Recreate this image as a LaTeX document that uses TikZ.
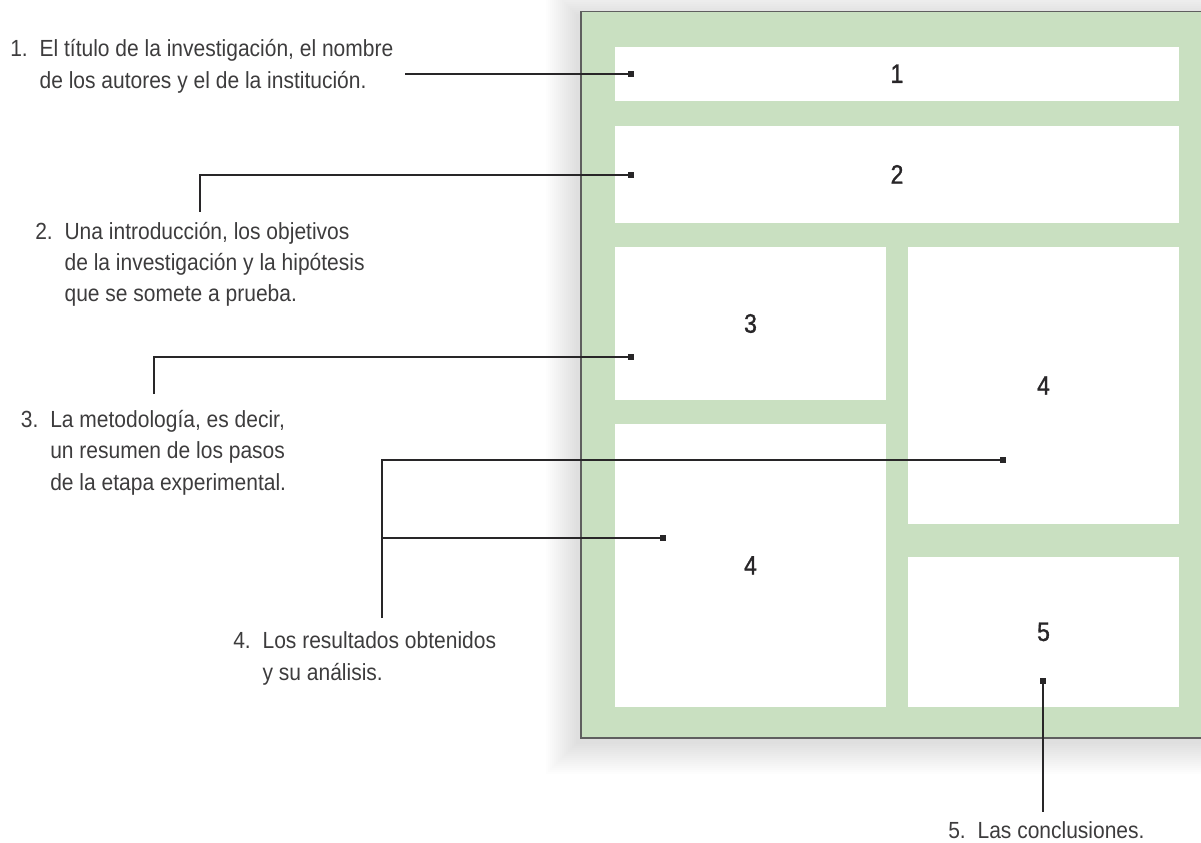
\documentclass[tikz,border=0pt]{standalone}
\usepackage{fontspec}
\setmainfont{Liberation Sans}[FakeStretch=0.9]
\newfontfamily\boxfont{Liberation Sans}[FakeStretch=0.86, FakeBold=1.2]
\usepackage{xcolor}
\usetikzlibrary{positioning}

\definecolor{sheetgreen}{RGB}{201,224,193}
\definecolor{ink}{RGB}{40,38,40}
\definecolor{rim}{RGB}{95,95,95}

\newcommand\px{0.75pt}
\newcommand\lnum[1]{\makebox[22pt][l]{#1}}
\newcommand\lind{\hspace*{22pt}}

\begin{document}
\begin{tikzpicture}[x=0.75pt, y=-0.75pt,
  sheet/.style={draw=none, fill=sheetgreen, inner sep=0pt},
  panel/.style={fill=white, inner sep=0pt, text=ink, font=\boxfont\fontsize{20}{22}\selectfont},
  lead/.style={draw=ink, line width=0.9pt},
  endmark/.style={rectangle, fill=ink, inner sep=0pt, minimum size=4.6pt},
  note/.style={anchor=base west, align=left, inner sep=0pt, text=ink!90,
    font=\fontsize{17.5}{23.5}\selectfont}
]
\useasboundingbox (0,0) rectangle (1201,842);
\clip (0,0) rectangle (1201,842);

% soft shadow of the sheet
\foreach \m in {1,...,16}
  \fill[black, opacity=0.007] (578-2*\m, 16-2*\m) rectangle (1230+2*\m, 742+2*\m);

% the sheet
\node[sheet, minimum width=650*\px, minimum height=726.3*\px] (sheet) at (906,374.85) {};
\draw[rim, line width=1.1pt] (1240,11.7) -- (581,11.7) -- (581,738) -- (1240,738);

% panels
\node[panel, minimum width=564*\px, minimum height=54*\px] (box1) at (897,73.7) {1};
\node[panel, minimum width=564*\px, minimum height=96.7*\px] (box2) at (897,174.35) {2};
\node[panel, minimum width=271*\px, minimum height=153*\px] (box3) at (750.5,323.5) {3};
\node[panel, minimum width=271*\px, minimum height=277*\px] (box4r) at (1043.5,385.5) {4};
\node[panel, minimum width=271*\px, minimum height=282.7*\px] (box4l) at (750.5,565.35) {4};
\node[panel, minimum width=271*\px, minimum height=149.7*\px] (box5) at (1043.5,631.85) {5};

% labels (placed at the baseline of their last line)
\node[note] (lbl1) at (10,88.3) {\lnum{1.}El título de la investigación, el nombre\\
  \lind de los autores y el de la institución.};
\node[note] (lbl2) at (35,301.7) {\lnum{2.}Una introducción, los objetivos\\
  \lind de la investigación y la hipótesis\\
  \lind que se somete a prueba.};
\node[note] (lbl3) at (20.7,490) {\lnum{3.}La metodología, es decir,\\
  \lind un resumen de los pasos\\
  \lind de la etapa experimental.};
\node[note] (lbl4) at (233,680) {\lnum{4.}Los resultados obtenidos\\
  \lind y su análisis.};
\node[note] (lbl5) at (948,838) {\lnum{5.}Las conclusiones.};

% end marks
\node[endmark] (d1) at (631,74) {};
\node[endmark] (d2) at (631,175) {};
\node[endmark] (d3) at (631,357) {};
\node[endmark] (d4r) at (1003,460) {};
\node[endmark] (d4l) at (663,538) {};
\node[endmark] (d5) at (1043,681) {};

\coordinate (a1) at (405,74);
\coordinate (a2) at (200,211.7);
\coordinate (a3) at (154,394);
\coordinate (a4) at (382,618);
\coordinate (a5) at (1043,811.7);

% leaders
\draw[lead] (a1) -- (d1);
\draw[lead] (a2) |- (d2);
\draw[lead] (a3) |- (d3);
\draw[lead] (a4) |- (d4r);
\draw[lead] (a4 |- d4l) -- (d4l);
\draw[lead] (d5) -- (a5);
\end{tikzpicture}
\end{document}
